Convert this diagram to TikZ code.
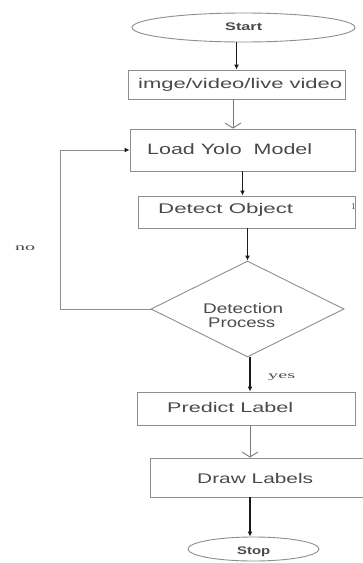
\documentclass[tikz,border=0pt]{standalone}
\usepackage{fontspec}
\setmainfont{Liberation Serif}
\setsansfont{Liberation Sans}
\usetikzlibrary{shapes.geometric,arrows.meta}
\definecolor{boxline}{HTML}{8E8E8E}
\definecolor{txt}{HTML}{4A4A4A}
\definecolor{arrowline}{HTML}{1A1A1A}
% stretch a text horizontally to a given width, keeping its height
\newcommand\stretchto[2]{\resizebox{#1}{\height}{#2}}

\begin{document}
\begin{tikzpicture}[x=1pt,y=-1pt,
  box/.style={draw=boxline, line width=0.9pt, rectangle, inner sep=0pt},
  oval/.style={draw=boxline, line width=0.9pt, ellipse, inner sep=0pt},
  decision/.style={draw=boxline, line width=0.9pt, diamond, inner sep=0pt},
  lbl/.style={inner sep=0pt, anchor=base west, text=txt, font=\sffamily},
  note/.style={inner sep=0pt, anchor=base west, text=txt, font=\rmfamily},
  flow/.style={draw=arrowline, line width=1.2pt, -{Latex[length=5pt,width=5pt]}},
  feed/.style={draw=boxline!85!black, line width=0.9pt, -{Straight Barb[length=5pt,width=16pt]}},
  back/.style={draw=boxline, line width=1pt, -{Latex[length=5pt,width=5pt,color=arrowline]}}
]
\fill[white] (0,0) rectangle (362,563);
\useasboundingbox (0,0) rectangle (362,563);

% shapes
\node[oval, minimum width=223pt, minimum height=29pt] (start) at (243.5,27.5) {};
\node[box, minimum width=217pt, minimum height=29pt] (src) at (236.5,84.5) {};
\node[box, minimum width=225pt, minimum height=42pt] (load) at (242.5,150) {};
\node[box, minimum width=217pt, minimum height=32pt] (detect) at (246.5,212) {};
\node[decision, minimum width=193pt, minimum height=96pt] (dec) at (247.5,309) {};
\node[box, minimum width=218pt, minimum height=33pt] (predict) at (246,408.5) {};
\node[box, minimum width=215pt, minimum height=39pt] (drawl) at (257.5,477.5) {};
\node[oval, minimum width=131pt, minimum height=24pt] (stop) at (253.5,549) {};

% texts
\node[lbl,font=\sffamily\bfseries] (start-t) at (225,30) {\fontsize{11}{13}\selectfont\stretchto{37pt}{Start}};
\node[lbl] (src-t) at (138,88) {\fontsize{14}{16}\selectfont\stretchto{204pt}{imge/video/live video}};
\node[lbl] (load-t) at (147,154) {\fontsize{15}{17}\selectfont\stretchto{165pt}{Load Yolo\ \ Model}};
\node[lbl] (detect-t) at (158,213) {\fontsize{14}{16}\selectfont\stretchto{135pt}{Detect Object}};
\node[note] (mark-t) at (351,209) {\fontsize{9}{10}\selectfont 1};
\node[lbl] (dec-t1) at (203,313) {\fontsize{14}{16}\selectfont\stretchto{80pt}{Detection}};
\node[lbl] (dec-t2) at (208,327) {\fontsize{14}{16}\selectfont\stretchto{67pt}{Process}};
\node[lbl] (predict-t) at (167,412) {\fontsize{14}{16}\selectfont\stretchto{126pt}{Predict Label}};
\node[lbl] (drawl-t) at (197,483) {\fontsize{14}{16}\selectfont\stretchto{116pt}{Draw Labels}};
\node[lbl,font=\sffamily\bfseries] (stop-t) at (237,554) {\fontsize{11}{13}\selectfont\stretchto{33pt}{Stop}};
\node[note] (yes-t) at (268,378) {\fontsize{10}{12}\selectfont\stretchto{27pt}{yes}};
\node[note] (no-t) at (15,250) {\fontsize{10}{12}\selectfont\stretchto{20pt}{no}};

% connectors
\coordinate (srcout) at ([xshift=-3.5pt]src.south);
\coordinate (decout) at ([xshift=2.5pt]dec.south);
\coordinate (predout) at ([xshift=4pt]predict.south);
\coordinate (loopx) at (60,309);

\draw[flow] (start.south -| src.center) -- (src.north);
\draw[feed] (srcout) -- (srcout |- load.north);
\draw[flow] (load.south) -- (load.south |- detect.north);
\draw[flow] (detect.south -| dec.north) -- (dec.north);
\draw[back] (dec.west) -- (loopx) |- (load.west);
\draw[flow] (decout) -- (decout |- predict.north);
\draw[feed] (predout) -- (predout |- drawl.north);
\draw[flow] (drawl.south -| predout) -- (predout |- stop.north);
\end{tikzpicture}
\end{document}
